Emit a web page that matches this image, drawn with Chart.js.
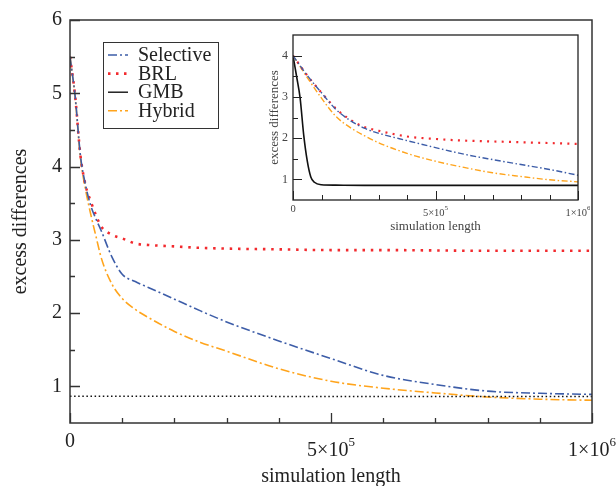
<!DOCTYPE html>
<html>
<head>
<meta charset="utf-8">
<title>excess differences vs simulation length</title>
<script src="https://cdn.jsdelivr.net/npm/chart.js@4.4.0/dist/chart.umd.min.js"></script>
<style>
  body { margin: 0; background: #fff; }
  #wrap { position: relative; width: 616px; height: 486px; overflow: hidden; }
  #main { position: absolute; left: 0; top: 0; }
  #inset { position: absolute; left: 258px; top: 30px; }
</style>
</head>
<body>
<div id="wrap">
  <canvas id="main" width="616" height="486"></canvas>
  <canvas id="inset" width="332" height="206"></canvas>
</div>
<script>
// main plot
const simLength = [0, 10000, 20000, 30000, 40000, 50000, 60000, 80000, 100000, 125000, 150000,
                   200000, 250000, 300000, 400000, 500000, 600000, 700000, 800000, 900000, 1000000];
const selective = [5.5, 4.95, 4.15, 3.74, 3.46, 3.28, 3.12, 2.77, 2.53, 2.43, 2.35,
                   2.19, 2.03, 1.88, 1.62, 1.38, 1.15, 1.025, 0.935, 0.905, 0.89];
const brl       = [5.5, 4.95, 4.15, 3.74, 3.52, 3.33, 3.18, 3.07, 3.02, 2.95, 2.93,
                   2.91, 2.89, 2.88, 2.87, 2.86, 2.86, 2.855, 2.85, 2.85, 2.85];
const hybrid    = [5.5, 4.93, 4.12, 3.68, 3.34, 3.04, 2.75, 2.40, 2.20, 2.05, 1.94,
                   1.75, 1.60, 1.48, 1.24, 1.07, 0.975, 0.91, 0.855, 0.825, 0.81];
const gmbLength = [0, 500000, 1000000];
const gmb       = [0.865, 0.863, 0.862];

// inset plot
const insetLength    = [0, 50000, 100000, 150000, 200000, 250000, 300000, 400000, 500000,
                        600000, 700000, 800000, 900000, 1000000];
const insetSelective = [4.0, 3.52, 3.1, 2.7, 2.43, 2.24, 2.12, 1.94, 1.77, 1.61, 1.48, 1.36, 1.24, 1.10];
const insetBrl       = [4.0, 3.52, 3.1, 2.72, 2.45, 2.27, 2.18, 2.04, 1.98, 1.94, 1.92, 1.90, 1.88, 1.86];
const insetHybrid    = [4.0, 3.47, 2.97, 2.53, 2.26, 2.06, 1.89, 1.63, 1.44, 1.29, 1.16, 1.07, 0.99, 0.94];
const insetGmbLength = [0, 12500, 25000, 37500, 50000, 62500, 75000, 100000, 150000, 250000, 500000, 1000000];
const insetGmb       = [4.0, 3.5, 2.97, 2.08, 1.45, 1.06, 0.93, 0.87, 0.86, 0.855, 0.855, 0.855];

// ticks
const seriesNames = ['Selective', 'BRL', 'GMB', 'Hybrid'];
const xTickValues = [0, 500000, 1000000];
const xTickBase   = ['0', '5×10', '1×10'];
const xTickExp    = ['', '5', '6'];
const xMinorTicks = [100000, 200000, 300000, 400000, 600000, 700000, 800000, 900000];
const yTicksMain  = [1, 2, 3, 4, 5, 6];
const yMinorMain  = [1.5, 2.5, 3.5, 4.5, 5.5];
const yTicksInset = [1, 2, 3, 4];
const yMinorInset = [1.5, 2.5, 3.5];

const SERIF = '"Liberation Serif", "Times New Roman", serif';

function pts(xs, ys) {
  return xs.map((x, i) => ({ x: x, y: ys[i] }));
}

function line(label, data, color, width, dash) {
  return {
    label: label,
    data: data,
    borderColor: color,
    borderWidth: width,
    borderDash: dash,
    borderCapStyle: 'butt',
    pointRadius: 0,
    fill: false,
    cubicInterpolationMode: 'monotone'
  };
}

// frame, inward ticks, tick labels and axis titles
function axesPlugin(o) {
  return {
    id: 'axes',
    afterDraw(chart) {
      const ctx = chart.ctx;
      const a = chart.chartArea;
      const x = chart.scales.x, y = chart.scales.y;
      ctx.save();
      ctx.strokeStyle = o.color;
      ctx.lineWidth = o.frameWidth;
      ctx.strokeRect(a.left, a.top, a.right - a.left, a.bottom - a.top);

      ctx.beginPath();
      xTickValues.forEach(v => {
        const px = Math.round(x.getPixelForValue(v)) + 0.5;
        ctx.moveTo(px, a.bottom); ctx.lineTo(px, a.bottom - o.major);
      });
      xMinorTicks.forEach(v => {
        const px = Math.round(x.getPixelForValue(v)) + 0.5;
        ctx.moveTo(px, a.bottom); ctx.lineTo(px, a.bottom - o.minor);
      });
      o.yMajor.forEach(v => {
        const py = Math.round(y.getPixelForValue(v)) + 0.5;
        ctx.moveTo(a.left, py); ctx.lineTo(a.left + o.major, py);
      });
      o.yMinor.forEach(v => {
        const py = Math.round(y.getPixelForValue(v)) + 0.5;
        ctx.moveTo(a.left, py); ctx.lineTo(a.left + o.minor, py);
      });
      ctx.lineWidth = o.tickWidth;
      ctx.stroke();

      ctx.fillStyle = o.textColor;
      // y tick labels
      ctx.font = o.yFont + 'px ' + SERIF;
      ctx.textAlign = 'right';
      ctx.textBaseline = 'middle';
      o.yMajor.forEach(v => {
        ctx.fillText(String(v), a.left - o.yPad, y.getPixelForValue(v));
      });

      // x tick labels with a raised exponent
      ctx.textBaseline = 'alphabetic';
      ctx.textAlign = 'left';
      xTickValues.forEach((v, i) => {
        const px = x.getPixelForValue(v);
        ctx.font = o.xFont + 'px ' + SERIF;
        const wb = ctx.measureText(xTickBase[i]).width;
        if (!xTickExp[i]) {
          ctx.fillText(xTickBase[i], px - wb / 2, o.zeroBaseline);
          return;
        }
        ctx.font = o.expFont + 'px ' + SERIF;
        const we = ctx.measureText(xTickExp[i]).width;
        const left = px - (wb + we) / 2;
        ctx.fillText(xTickExp[i], left + wb, o.expBaseline);
        ctx.font = o.xFont + 'px ' + SERIF;
        ctx.fillText(xTickBase[i], left, o.xBaseline);
      });

      // axis titles
      ctx.font = o.titleFont + 'px ' + SERIF;
      ctx.textAlign = 'center';
      ctx.fillText('simulation length', (a.left + a.right) / 2, o.xTitleBaseline);
      ctx.save();
      ctx.translate(o.yTitleX, (a.top + a.bottom) / 2);
      ctx.rotate(-Math.PI / 2);
      ctx.textBaseline = 'middle';
      ctx.fillText('excess differences', 0, 0);
      ctx.restore();

      if (o.legend) o.legend(chart, ctx);
      ctx.restore();
    }
  };
}

const legendDash = [[9, 3, 2, 3], [2.5, 5.5], [], [9, 3, 2, 3]];
const legendColor = ['#3d5da8', '#f22a2e', '#111', '#ffa41c'];
const legendWidth = [1.6, 2.6, 1.4, 1.6];

function drawLegend(chart, ctx) {
  ctx.fillStyle = '#fff';
  ctx.fillRect(103.5, 42.5, 115, 86);
  ctx.strokeStyle = '#333';
  ctx.lineWidth = 1;
  ctx.setLineDash([]);
  ctx.strokeRect(103.5, 42.5, 115, 86);
  ctx.font = '20px ' + SERIF;
  ctx.textAlign = 'left';
  ctx.textBaseline = 'middle';
  seriesNames.forEach((name, i) => {
    const yy = 55 + i * 18.6;
    ctx.beginPath();
    ctx.setLineDash(legendDash[i]);
    ctx.lineCap = 'butt';
    ctx.strokeStyle = legendColor[i];
    ctx.lineWidth = legendWidth[i];
    ctx.moveTo(108, yy); ctx.lineTo(128, yy);
    ctx.stroke();
    ctx.setLineDash([]);
    ctx.fillStyle = '#222';
    ctx.fillText(name, 138, yy + 1);
  });
}

new Chart(document.getElementById('main'), {
  type: 'line',
  data: {
    datasets: [
      line('Selective', pts(simLength, selective), '#3d5da8', 1.6, [9, 3, 2, 3]),
      line('BRL', pts(simLength, brl), '#f22a2e', 2.6, [2.5, 5.8]),
      line('GMB', pts(gmbLength, gmb), '#111', 1.5, [1.5, 2.6]),
      line('Hybrid', pts(simLength, hybrid), '#ffa41c', 1.6, [9, 3, 2, 3])
    ]
  },
  options: {
    responsive: false,
    animation: false,
    layout: { padding: { left: 70, top: 20, right: 24, bottom: 63 } },
    plugins: { legend: { display: false }, tooltip: { enabled: false } },
    scales: {
      x: { type: 'linear', min: 0, max: 1000000, display: false },
      y: { type: 'linear', min: 0.5, max: 6, display: false }
    }
  },
  plugins: [axesPlugin({
    color: '#333', frameWidth: 1.5, tickWidth: 1.3, textColor: '#222',
    major: 10, minor: 5,
    yMajor: yTicksMain, yMinor: yMinorMain,
    yFont: 20, yPad: 8,
    xFont: 20, expFont: 13,
    zeroBaseline: 447, xBaseline: 456, expBaseline: 446,
    titleFont: 20, xTitleBaseline: 482, yTitleX: 21,
    legend: drawLegend
  })]
});

new Chart(document.getElementById('inset'), {
  type: 'line',
  data: {
    datasets: [
      line('Selective', pts(insetLength, insetSelective), '#3d5da8', 1.4, [6, 2.5, 1.5, 2.5]),
      line('BRL', pts(insetLength, insetBrl), '#f22a2e', 2.2, [2, 5.3]),
      line('GMB', pts(insetGmbLength, insetGmb), '#111', 1.6, []),
      line('Hybrid', pts(insetLength, insetHybrid), '#ffa41c', 1.4, [6, 2.5, 1.5, 2.5])
    ]
  },
  options: {
    responsive: false,
    animation: false,
    layout: { padding: { left: 35, top: 5, right: 12, bottom: 36 } },
    plugins: { legend: { display: false }, tooltip: { enabled: false } },
    scales: {
      x: { type: 'linear', min: 0, max: 1000000, display: false },
      y: { type: 'linear', min: 0.5, max: 4.5, display: false }
    }
  },
  plugins: [axesPlugin({
    color: '#222', frameWidth: 1.3, tickWidth: 1, textColor: '#444',
    major: 9, minor: 5,
    yMajor: yTicksInset, yMinor: yMinorInset,
    yFont: 12, yPad: 5,
    xFont: 10.5, expFont: 7,
    zeroBaseline: 182, xBaseline: 186, expBaseline: 180,
    titleFont: 13, xTitleBaseline: 200, yTitleX: 17
  })]
});
</script>
</body>
</html>
